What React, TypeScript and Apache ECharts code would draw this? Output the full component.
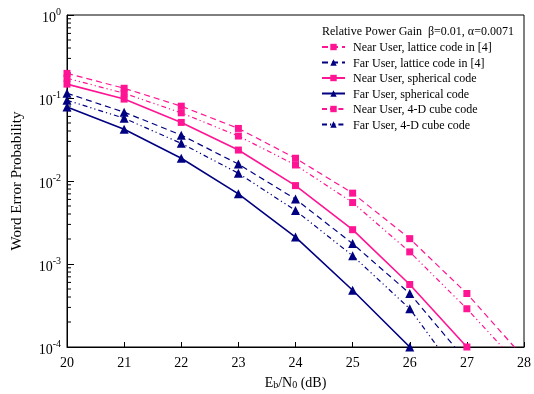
import React, { useEffect, useRef } from "react";
import * as echarts from "echarts";

const ebN0 = [20, 21, 22, 23, 24, 25, 26, 27, 28];

const nearLattice = [0.198, 0.131, 0.0797, 0.043, 0.0188, 0.00714, 0.00202, 0.000441, 7.4e-5];
const farLattice = [0.114, 0.0675, 0.0357, 0.016, 0.00605, 0.00176, 0.000441, 6.7e-5, null];
const nearSpherical = [0.147, 0.097, 0.0508, 0.0236, 0.0088, 0.00259, 0.000566, 1.0e-4, null];
const farSpherical = [0.078, 0.042, 0.0188, 0.007, 0.00211, 0.000483, 1.0e-4, null, null];
const nearCube = [0.173, 0.114, 0.0663, 0.0348, 0.0156, 0.0055, 0.0014, 0.000289, 5.2e-5];
const farCube = [0.094, 0.057, 0.0284, 0.0124, 0.00441, 0.00126, 0.000289, 3.3e-5, null];

const seriesNames = [
  "Near User, lattice code in [4]",
  "Far User, lattice code in [4]",
  "Near User, spherical code",
  "Far User, spherical code",
  "Near User, 4-D cube code",
  "Far User, 4-D cube code",
];

const xTicks = { min: 20, max: 28, interval: 1 };
const yDecades = [-4, -3, -2, -1, 0];

const PINK = "#FF1493";
const NAVY = "#000080";
const FONT = "'Liberation Serif', 'Times New Roman', serif";

export default function App() {
  const ref = useRef<HTMLDivElement>(null);

  useEffect(() => {
    if (!ref.current) return;
    const chart = echarts.init(ref.current, undefined, { renderer: "svg" });

    const pair = (arr: (number | null)[]) =>
      ebN0.map((x, i) => [x, arr[i]]).filter((p) => p[1] != null);

    const minorTicks: number[][] = [];
    for (let d = yDecades[0]; d < yDecades[yDecades.length - 1]; d++) {
      for (let k = 2; k <= 9; k++) minorTicks.push([xTicks.min, k * Math.pow(10, d)]);
    }

    const dashed = [6, 4];
    const dashDot = [5, 3, 1.2, 3, 1.2, 3];

    const mk = (
      name: string,
      data: (number | null)[],
      color: string,
      symbol: string,
      type: any,
      width: number,
      size: number
    ) => ({
      name,
      type: "line",
      data: pair(data),
      symbol,
      symbolSize: size,
      showSymbol: true,
      itemStyle: { color },
      lineStyle: { color, width, type },
      clip: true,
      z: 3,
    });

    const option: any = {
      animation: false,
      textStyle: { fontFamily: FONT },
      grid: {
        left: 63,
        right: 8,
        top: 15,
        bottom: 46,
        show: true,
        borderColor: "#000",
        borderWidth: 1,
        backgroundColor: "transparent",
      },
      graphic: [
        {
          type: "text",
          left: 322,
          top: 25,
          style: {
            text: "Relative Power Gain  β=0.01, α=0.0071",
            fontFamily: FONT,
            fontSize: 12,
            fill: "#000",
          },
        },
      ],
      legend: {
        left: 321,
        top: 40,
        padding: 0,
        orient: "vertical",
        itemWidth: 23,
        itemHeight: 8,
        itemGap: 1.5,
        selectedMode: false,
        data: seriesNames,
        textStyle: { fontFamily: FONT, fontSize: 12, color: "#000", lineHeight: 14, padding: [0, 0, 0, 3] },
      },
      xAxis: {
        type: "value",
        min: xTicks.min,
        max: xTicks.max,
        interval: xTicks.interval,
        name: "E{sub|b}/N{sub|0} (dB)",
        nameLocation: "middle",
        nameGap: 28,
        nameTextStyle: {
          fontFamily: FONT,
          fontSize: 14,
          color: "#000",
          rich: {
            sub: { fontFamily: FONT, fontSize: 10, verticalAlign: "bottom", lineHeight: 4, color: "#000" },
          },
        },
        axisLine: { lineStyle: { color: "#000", width: 1 } },
        axisTick: { inside: true, length: 5, lineStyle: { color: "#000" } },
        axisLabel: { fontFamily: FONT, fontSize: 14, color: "#000", margin: 8, hideOverlap: false },
        splitLine: { show: false },
      },
      yAxis: {
        type: "log",
        logBase: 10,
        min: 1e-4,
        max: 1,
        name: "Word Error Probability",
        nameLocation: "middle",
        nameGap: 44,
        nameTextStyle: { fontFamily: FONT, fontSize: 15, color: "#000" },
        axisLine: { show: true, lineStyle: { color: "#000", width: 1 } },
        axisTick: { inside: true, length: 7, lineStyle: { color: "#000" } },
        minorTick: { show: false },
        splitLine: { show: false },
        axisLabel: {
          margin: 6,
          formatter: (v: number) => {
            const e = Math.round(Math.log10(v));
            return "{b|10}{s|" + e + "}";
          },
          rich: {
            b: { fontFamily: FONT, fontSize: 14, lineHeight: 18, color: "#000", verticalAlign: "bottom" },
            s: { fontFamily: FONT, fontSize: 10, lineHeight: 10, color: "#000", verticalAlign: "top" },
          },
        },
      },
      series: [
        mk(seriesNames[0], nearLattice, PINK, "rect", dashed, 1.2, 7),
        mk(seriesNames[1], farLattice, NAVY, "triangle", dashed, 1.2, 9),
        mk(seriesNames[2], nearSpherical, PINK, "rect", "solid", 1.6, 7),
        mk(seriesNames[3], farSpherical, NAVY, "triangle", "solid", 1.6, 9),
        mk(seriesNames[4], nearCube, PINK, "rect", dashDot, 1.2, 7),
        mk(seriesNames[5], farCube, NAVY, "triangle", dashDot, 1.2, 9),
        {
          name: "minorTicks",
          type: "custom",
          silent: true,
          data: minorTicks,
          z: 2,
          renderItem: (params: any, api: any) => {
            const p = api.coord([api.value(0), api.value(1)]);
            return {
              type: "line",
              shape: { x1: p[0], y1: p[1], x2: p[0] + 4, y2: p[1] },
              style: { stroke: "#000", lineWidth: 1 },
            };
          },
        },
      ],
    };

    chart.setOption(option);
    return () => chart.dispose();
  }, []);

  return <div ref={ref} style={{ position: "fixed", left: 0, top: 0, width: 534, height: 394 }} />;
}
